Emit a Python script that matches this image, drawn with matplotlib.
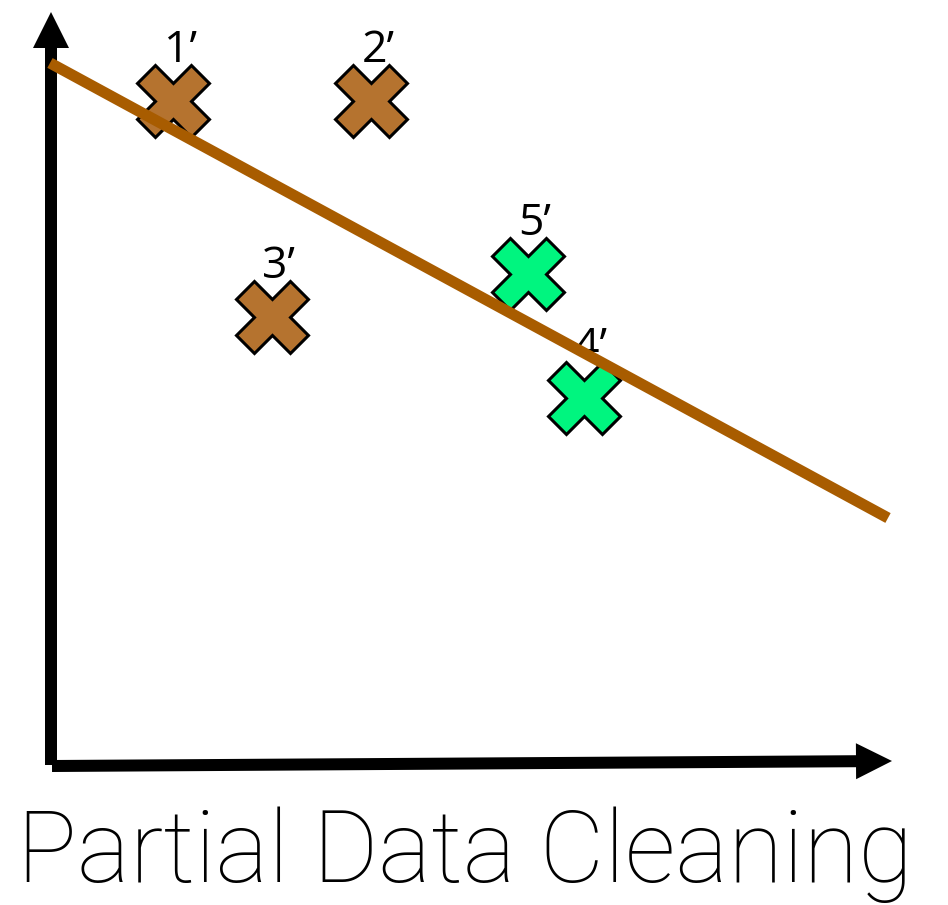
import matplotlib
matplotlib.use("Agg")
import matplotlib.pyplot as plt
from matplotlib.patches import FancyArrow
import numpy as np

# Cleaned points (x, y) and their labels
labels = ["1’", "2’", "3’", "4’", "5’"]
x_vals = [1.225, 3.20, 2.21, 5.33, 4.77]
y_vals = [6.60, 6.60, 4.44, 3.63, 4.87]
groups = ["dirty", "dirty", "dirty", "clean", "clean"]

# Fitted regression line
fit_x = [-0.01, 8.37]
fit_slope = -0.543
fit_intercept = 6.975

title = "Partial Data Cleaning"

colors = {"dirty": "#B5732F", "clean": "#00F57F"}
line_color = "#A85C00"

fig = plt.figure(figsize=(9.48, 9.05), dpi=100)
ax = fig.add_axes([0, 0, 1, 1])
ax.set_xlim(-0.51, 8.97)
ax.set_ylim(-1.44, 7.61)
ax.axis("off")

# Axes drawn as arrows
ax.add_patch(FancyArrow(0.0, -0.04, 0.0, 7.53, width=0.12, head_width=0.36,
                        head_length=0.36, length_includes_head=True,
                        color="black", lw=0, zorder=2))
ax.add_patch(FancyArrow(0.01, -0.05, 8.40, 0.05, width=0.12, head_width=0.36,
                        head_length=0.36, length_includes_head=True,
                        color="black", lw=0, zorder=2))

# Data points
for lab, x, y, g in zip(labels, x_vals, y_vals, groups):
    ax.plot(x, y, marker="X", markersize=52, markerfacecolor=colors[g],
            markeredgecolor="black", markeredgewidth=2.2, linestyle="none",
            zorder=3)
    ax.annotate(lab, (x, y), xytext=(-7, 28), textcoords="offset points",
                ha="left", va="baseline", fontsize=32,
                family=["Open Sans", "DejaVu Sans"], zorder=4)

# Regression line
fx = np.array(fit_x)
ax.plot(fx, fit_slope * fx + fit_intercept, color=line_color, lw=8,
        solid_capstyle="butt", zorder=5)

ax.text(4.14, -1.21, title, ha="center", va="baseline", fontsize=72,
        fontweight="light", family=["Roboto", "DejaVu Sans"])

fig.savefig("out.png", dpi=100)
